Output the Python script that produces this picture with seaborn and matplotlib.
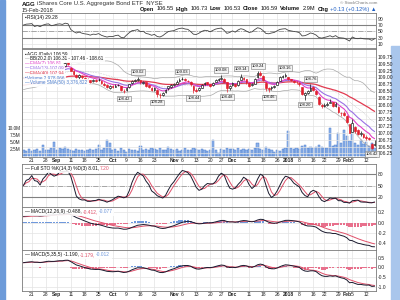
import numpy as np
import pandas as pd
import matplotlib
matplotlib.use("Agg")
import matplotlib.pyplot as plt
import seaborn as sns
from matplotlib.offsetbox import TextArea, HPacker, AnchoredOffsetbox
from matplotlib.patches import Rectangle

sns.set_theme(style="white")
plt.rcParams['font.family'] = ['Liberation Sans', 'DejaVu Sans']

# ---------------- data ----------------
holidays = ['2017-09-04', '2017-11-23', '2017-12-25', '2018-01-01', '2018-01-15']
dates = pd.bdate_range('2017-08-16', '2018-02-15', freq='C', holidays=holidays)

# closes before the visible window (indicator warm-up)
prior_close = [108.62, 108.70, 108.66, 108.58, 108.50, 108.55, 108.48, 108.35, 108.22, 108.15,
               108.08, 108.12, 108.20, 108.18, 108.26, 108.35, 108.42, 108.38, 108.45, 108.52,
               108.60, 108.56, 108.62, 108.68, 108.74, 108.70, 108.66, 108.72, 108.80, 108.86,
               108.82, 108.78, 108.85, 108.92, 108.98, 108.94, 108.90, 108.96, 109.00, 108.95]

opens = [109.00, 109.04, 109.14, 109.13, 109.12, 109.06, 109.14, 109.10, 109.22, 109.36,
         109.30, 109.27, 109.28, 109.45, 109.38, 109.42, 109.55, 109.35, 109.22, 109.10,
         109.00, 109.04, 108.98, 108.96, 108.90, 108.88, 108.92, 108.90, 108.88, 108.78,
         108.74, 108.62, 108.70, 108.66, 108.74, 108.68, 108.52, 108.55, 108.64, 108.80,
         108.86, 108.92, 108.90, 108.80, 108.82, 108.72, 108.62, 108.56, 108.55, 108.38,
         108.36, 108.46, 108.60, 108.66, 108.74, 108.78, 108.88, 108.94, 108.96, 108.86,
         108.84, 108.70, 108.56, 108.54, 108.62, 108.76, 108.82, 108.76, 108.72, 108.84,
         108.92, 108.96, 108.96, 108.82, 108.60, 108.72, 108.76, 108.72, 108.92, 108.98,
         108.94, 108.80, 108.72, 108.78, 109.00, 109.16, 109.06, 108.80, 108.60, 108.60,
         108.66, 108.74, 108.88, 109.02, 109.06, 109.00, 108.94, 108.88, 108.84, 108.80,
         108.64, 108.36, 108.44, 108.52, 108.64, 108.52, 108.30, 108.02, 107.96, 108.02,
         108.08, 108.10, 107.96, 107.94, 107.72, 107.72, 107.62, 107.30, 107.04, 107.22,
         107.08, 106.94, 106.96, 106.86, 106.80, 106.60, 106.55]

highs = [109.08, 109.14, 109.18, 109.20, 109.16, 109.15, 109.16, 109.24, 109.31, 109.40,
         109.33, 109.34, 109.42, 109.48, 109.44, 109.56, 109.56, 109.38, 109.26, 109.12,
         109.12, 109.10, 109.02, 108.98, 108.92, 108.96, 108.95, 108.98, 108.90, 108.82,
         108.76, 108.72, 108.74, 108.75, 108.78, 108.70, 108.58, 108.66, 108.78, 108.92,
         108.96, 109.02, 108.92, 108.88, 108.84, 108.74, 108.64, 108.64, 108.58, 108.44,
         108.46, 108.58, 108.70, 108.76, 108.80, 108.90, 108.98, 109.03, 108.98, 108.92,
         108.86, 108.72, 108.60, 108.64, 108.76, 108.84, 108.84, 108.78, 108.84, 108.94,
         108.98, 109.08, 108.98, 108.84, 108.72, 108.84, 108.78, 108.92, 109.14, 109.02,
         108.96, 108.82, 108.80, 108.98, 109.24, 109.22, 109.08, 108.82, 108.66, 108.70,
         108.74, 108.88, 109.04, 109.10, 109.16, 109.02, 108.96, 108.92, 108.88, 108.82,
         108.66, 108.48, 108.56, 108.76, 108.68, 108.54, 108.32, 108.04, 108.06, 108.10,
         108.22, 108.12, 108.10, 107.96, 107.76, 107.78, 107.64, 107.32, 107.50, 107.26,
         107.12, 107.06, 107.00, 106.92, 106.86, 106.64, 106.73]

lows = [108.96, 109.02, 109.06, 109.10, 109.02, 109.04, 109.04, 109.08, 109.18, 109.28,
        109.22, 109.24, 109.26, 109.36, 109.34, 109.40, 109.44, 109.22, 109.08, 108.98,
        108.96, 108.96, 108.90, 108.86, 108.80, 108.84, 108.84, 108.86, 108.76, 108.68,
        108.60, 108.58, 108.62, 108.64, 108.68, 108.50, 108.42, 108.52, 108.62, 108.76,
        108.84, 108.88, 108.78, 108.78, 108.66, 108.60, 108.50, 108.52, 108.28, 108.26,
        108.32, 108.44, 108.56, 108.62, 108.68, 108.76, 108.84, 108.90, 108.86, 108.82,
        108.70, 108.44, 108.46, 108.52, 108.60, 108.72, 108.74, 108.66, 108.70, 108.82,
        108.88, 108.92, 108.82, 108.48, 108.56, 108.68, 108.64, 108.70, 108.90, 108.92,
        108.78, 108.64, 108.68, 108.76, 108.98, 109.06, 108.88, 108.52, 108.46, 108.56,
        108.62, 108.72, 108.86, 108.98, 109.02, 108.90, 108.86, 108.80, 108.78, 108.70,
        108.36, 108.20, 108.40, 108.50, 108.50, 108.36, 108.00, 107.88, 107.92, 107.98,
        108.06, 107.92, 107.94, 107.72, 107.62, 107.60, 107.36, 106.98, 107.02, 107.00,
        106.90, 106.88, 106.80, 106.74, 106.72, 106.42, 106.53]

closes = [109.02, 109.10, 109.12, 109.15, 109.05, 109.12, 109.08, 109.20, 109.28, 109.32,
          109.25, 109.30, 109.38, 109.42, 109.40, 109.52, 109.50, 109.25, 109.12, 109.02,
          109.08, 109.00, 108.95, 108.92, 108.85, 108.90, 108.88, 108.92, 108.80, 108.72,
          108.65, 108.68, 108.66, 108.70, 108.72, 108.55, 108.50, 108.62, 108.75, 108.88,
          108.90, 108.95, 108.82, 108.85, 108.70, 108.65, 108.55, 108.60, 108.40, 108.35,
          108.42, 108.55, 108.68, 108.72, 108.75, 108.85, 108.92, 108.95, 108.90, 108.88,
          108.75, 108.55, 108.52, 108.60, 108.72, 108.80, 108.78, 108.70, 108.80, 108.90,
          108.95, 108.98, 108.85, 108.62, 108.68, 108.80, 108.70, 108.88, 109.00, 108.95,
          108.82, 108.70, 108.75, 108.95, 109.15, 109.10, 108.92, 108.62, 108.58, 108.65,
          108.70, 108.85, 109.00, 109.05, 109.08, 108.95, 108.90, 108.85, 108.82, 108.75,
          108.40, 108.42, 108.50, 108.62, 108.55, 108.40, 108.05, 107.95, 108.00, 108.05,
          108.12, 107.95, 108.05, 107.75, 107.70, 107.65, 107.40, 107.00, 107.35, 107.05,
          106.95, 107.00, 106.85, 106.80, 106.78, 106.46, 106.59]

volume_m = [2.1, 1.8, 2.4, 1.9, 2.2, 2.6, 1.7, 4.0, 2.3, 2.0,
            2.8, 5.1, 2.2, 2.9, 2.4, 3.3, 2.6, 2.0, 1.8, 2.5,
            2.2, 2.3, 1.9, 2.1, 2.6, 2.0, 2.4, 4.0, 2.2, 2.7,
            5.6, 4.6, 2.3, 2.5, 1.8, 2.9, 2.2, 1.6, 2.4, 2.0,
            2.1, 1.9, 3.6, 2.2, 2.5, 2.0, 2.8, 2.4, 2.2, 2.9,
            2.3, 2.0, 3.3, 2.6, 2.1, 2.4, 1.8, 2.2, 2.7, 2.3,
            2.0, 2.9, 2.4, 2.1, 2.6, 2.0, 1.7, 2.3, 5.6, 2.2,
            1.2, 2.5, 2.2, 3.0, 2.4, 2.6, 2.1, 2.8, 2.3, 2.5,
            2.0, 2.4, 2.2, 2.7, 4.6, 2.6, 2.3, 3.1, 2.5, 2.0,
            1.5, 2.1, 1.9, 2.4, 2.8, 9.0, 3.0, 2.6, 2.9, 2.4,
            3.5, 3.8, 2.7, 3.1, 2.9, 3.3, 4.1, 3.2, 2.8, 3.0,
            10.0, 3.6, 3.9, 8.2, 4.5, 9.3, 7.0, 5.2, 8.2, 4.8,
            3.9, 5.7, 4.2, 5.0, 3.6, 4.6, 2.98]

high_label_days = [41, 57, 71, 78, 84, 94, 103]
low_label_days = [36, 48, 61, 73, 88, 101, 125]

tick_dates = ['2017-08-21', '2017-08-28', '2017-09-01', '2017-09-11', '2017-09-18', '2017-09-25',
              '2017-10-02', '2017-10-09', '2017-10-16', '2017-10-23', '2017-11-01', '2017-11-06',
              '2017-11-13', '2017-11-20', '2017-11-27', '2017-12-01', '2017-12-11', '2017-12-18',
              '2017-12-26', '2018-01-02', '2018-01-08', '2018-01-16', '2018-01-22', '2018-01-29',
              '2018-02-01', '2018-02-05', '2018-02-12']
tick_labels = ['21', '28', 'Sep', '11', '18', '25', 'Oct', '9', '16', '23', 'Nov', '6', '13',
               '20', '27', 'Dec', '11', '18', '26', '2018', '8', '16', '22', '29', 'Feb', '5', '12']
bold_ticks = {'Sep', 'Oct', 'Nov', 'Dec', '2018', 'Feb'}

# ---------------- indicators ----------------
n = len(closes)
x = np.arange(n)
npre = len(prior_close)
full = pd.Series(prior_close + closes)
o = np.array(opens); h = np.array(highs); l = np.array(lows); c = np.array(closes)


def ema(s, span):
    return s.ewm(span=span, adjust=False).mean()


ema7 = ema(full, 7).values[npre:]
ema13 = ema(full, 13).values[npre:]
ema40 = ema(full, 40).values[npre:]
mid = full.rolling(20).mean()
sd = full.rolling(20).std(ddof=0)
bb_up = (mid + 2 * sd).values[npre:]
bb_lo = (mid - 2 * sd).values[npre:]
bb_mid = mid.values[npre:]

d = full.diff()
gain = d.clip(lower=0).ewm(alpha=1 / 14, adjust=False).mean()
loss = (-d.clip(upper=0)).ewm(alpha=1 / 14, adjust=False).mean()
rsi = (100 - 100 / (1 + gain / loss)).values[npre:]

hs = pd.Series(highs); ls = pd.Series(lows); cs = pd.Series(closes)
hh = hs.rolling(14, min_periods=1).max(); ll = ls.rolling(14, min_periods=1).min()
raw_k = 100 * (cs - ll) / (hh - ll)
full_k = raw_k.rolling(3, min_periods=1).mean()
full_d = full_k.rolling(3, min_periods=1).mean()

m1 = ema(full, 12) - ema(full, 26)
s1 = ema(m1, 9)
macd1 = m1.values[npre:]; sig1 = s1.values[npre:]; hist1 = macd1 - sig1
m2 = ema(full, 5) - ema(full, 35)
s2 = ema(m2, 5)
macd2 = m2.values[npre:]; sig2 = s2.values[npre:]; hist2 = macd2 - sig2

# ---------------- figure ----------------
W, H = 400, 300
fig = plt.figure(figsize=(4, 3), dpi=100)
fig.patch.set_facecolor('white')
fig.add_artist(Rectangle((0, 0), 5 / W, 1, transform=fig.transFigure, color='#6d9bd9', zorder=0))
fig.add_artist(Rectangle((391 / W, 0), 9 / W, 1 - 46 / H, transform=fig.transFigure,
                         color='#a9c6ec', zorder=0))


def ax_px(top, bottom, left=22, right=376):
    return fig.add_axes([left / W, 1 - bottom / H, (right - left) / W, (bottom - top) / H])


ax_rsi = ax_px(13, 48)
ax_p = ax_px(49, 157)
ax_sto = ax_px(164, 207)
ax_m1 = ax_px(207, 250)
ax_m2 = ax_px(250, 291)
axes = [ax_rsi, ax_p, ax_sto, ax_m1, ax_m2]

tpos = dates.get_indexer(pd.to_datetime(tick_dates))

for ax in axes:
    ax.set_facecolor('white')
    ax.set_xlim(-0.5, n - 0.5)
    ax.set_xticks(tpos)
    ax.set_xticklabels([])
    ax.grid(True, color='#e3e3e3', lw=0.5)
    ax.set_axisbelow(True)
    ax.tick_params(length=0, labelsize=3.6, pad=1.2, colors='#222')
    ax.yaxis.tick_right()
    for s in ax.spines.values():
        s.set_color('#7a7a7a'); s.set_linewidth(0.6)

# ---- RSI ----
sns.lineplot(x=x, y=rsi, ax=ax_rsi, color='#444444', lw=0.6)
ax_rsi.set_ylim(-2.4, 107.8)
ax_rsi.set_yticks([10, 30, 50, 70, 90])
for lv in (30, 70):
    ax_rsi.axhline(lv, color='#808080', lw=0.8, zorder=1)
ax_rsi.axhline(50, color='#9a9a9a', lw=0.6, ls='-.', zorder=1)

# ---- price + volume ----
ax_v = ax_p.twinx()
ax_v.set_zorder(1); ax_p.set_zorder(2); ax_p.patch.set_visible(False)
ax_v.bar(x, volume_m, width=0.8, color='#8fb3ea', edgecolor='#4a7ccc', lw=0.35)
ax_v.set_ylim(-0.36, 38.2)
ax_v.set_yticks([2.5, 5.0, 7.5, 10.0])
ax_v.set_yticklabels(['2.5M', '5.0M', '7.5M', '10.0M'])
ax_v.grid(False)
for s in ax_v.spines.values():
    s.set_visible(False)
ax_v.yaxis.tick_left()
ax_v.tick_params(axis='y', length=0, labelsize=3.4, pad=1, colors='#222',
                 left=True, labelleft=True, right=False, labelright=False)
ax_p.yaxis.tick_right()
ax_p.tick_params(axis='y', left=False, labelleft=False, right=True, labelright=True,
                 length=0, labelsize=3.6, pad=1.2)

sns.lineplot(x=x, y=bb_up, ax=ax_p, color='#a8a8a8', lw=0.5)
sns.lineplot(x=x, y=bb_lo, ax=ax_p, color='#a8a8a8', lw=0.5)
sns.lineplot(x=x, y=bb_mid, ax=ax_p, color='#b8b8b8', lw=0.45, ls=':')
sns.lineplot(x=x, y=ema40, ax=ax_p, color='#e23a50', lw=0.9)
sns.lineplot(x=x, y=ema13, ax=ax_p, color='#9a70e4', lw=0.8)
sns.lineplot(x=x, y=ema7, ax=ax_p, color='#e040c8', lw=0.8)

prev = np.concatenate([[prior_close[-1]], c[:-1]])
cols = np.where(c >= prev, '#111111', '#e0202e')
ax_p.vlines(x, l, h, colors=cols, lw=0.5, zorder=3)
body_lo = np.minimum(o, c)
body_h = np.maximum(np.abs(c - o), 0.012)
faces = [('white' if cc > oo else col) for cc, oo, col in zip(c, o, cols)]
ax_p.bar(x, body_h, bottom=body_lo, width=0.62, color=faces, edgecolor=cols, lw=0.45, zorder=4)

ax_p.set_ylim(106.12, 110.03)
ax_p.set_yticks(np.arange(106.25, 109.76, 0.25))
ax_p.set_yticklabels([f'{v:.2f}' for v in np.arange(106.25, 109.76, 0.25)])

box = dict(boxstyle='square,pad=0.18', fc='#f3f3f3', ec='#7a7a7a', lw=0.4)
for i in high_label_days:
    ax_p.annotate(f'{highs[i]:.2f}', (i, highs[i]), xytext=(0, 2.2), textcoords='offset points',
                  ha='center', va='bottom', fontsize=3.0, color='#111', bbox=box, zorder=6)
for i in low_label_days:
    ax_p.annotate(f'{lows[i]:.2f}', (i, lows[i]), xytext=(0, -2.2), textcoords='offset points',
                  ha='center', va='top', fontsize=3.0, color='#111', bbox=box, zorder=6,
                  annotation_clip=False)

# ---- stochastics ----
sns.lineplot(x=x, y=full_d.values, ax=ax_sto, color='#e0506a', lw=0.7)
sns.lineplot(x=x, y=full_k.values, ax=ax_sto, color='#1a1a2e', lw=0.7)
ax_sto.set_ylim(-7.6, 107.6)
ax_sto.set_yticks([20, 50, 80])
for lv in (20, 80):
    ax_sto.axhline(lv, color='#808080', lw=0.8, zorder=1)
ax_sto.axhline(50, color='#9a9a9a', lw=0.6, ls='-.', zorder=1)

# ---- MACD panels ----
for ax, mc, sg, hi, ylim, yt in [
        (ax_m1, macd1, sig1, hist1, (-0.539, 0.304), [-0.4, -0.2, 0.0, 0.2]),
        (ax_m2, macd2, sig2, hist2, (-1.234, 0.90), [-1.0, -0.5, 0.0, 0.5])]:
    hcols = np.where(hi >= 0, '#6f98dc', '#e8708c')
    ax.bar(x, hi, width=0.8, color=hcols, lw=0, zorder=2)
    sns.lineplot(x=x, y=sg, ax=ax, color='#e0506a', lw=0.7)
    sns.lineplot(x=x, y=mc, ax=ax, color='#1a1a2e', lw=0.7)
    ax.set_ylim(*ylim)
    ax.set_yticks(yt)
    ax.set_yticklabels([f'{v:.1f}' for v in yt])

for ax in axes + [ax_v]:
    ax.set_xlabel(''); ax.set_ylabel('')

for ax in (ax_p, ax_m2):
    ax.set_xticklabels(tick_labels)
    for t in ax.get_xticklabels():
        if t.get_text() in bold_ticks:
            t.set_fontweight('bold')
    ax.tick_params(axis='x', labelsize=3.6, pad=1.0)


# ---------------- texts ----------------
def rich(pieces, x_px, y_px, size=3.6, right=False, bg=False, sep=1.0):
    areas = [TextArea(t, textprops=dict(color=col, fontsize=size, fontweight=w))
             for t, col, w in pieces]
    pack = HPacker(children=areas, align='baseline', pad=0, sep=sep)
    anch = AnchoredOffsetbox(loc='upper right' if right else 'upper left', child=pack,
                             pad=0.1 if bg else 0, borderpad=0, frameon=bg,
                             bbox_to_anchor=(x_px / W, 1 - y_px / H),
                             bbox_transform=fig.transFigure)
    if bg:
        anch.patch.set_facecolor('white'); anch.patch.set_edgecolor('none')
        anch.patch.set_alpha(0.9)
    anch.set_zorder(10)
    fig.add_artist(anch)


K, B, N = '#111111', 'bold', 'normal'
rich([('AGG', K, B), ('iShares Core U.S. Aggregate Bond ETF  NYSE', '#333', N)], 22, 1.5, size=4.3)
rich([('15-Feb-2018', '#222', N)], 22, 8.0, size=4.0)
rich([('Open', K, B), ('106.55', K, N), ('High', K, B), ('106.73', K, N), ('Low', K, B),
      ('106.53', K, N), ('Close', K, B), ('106.59', K, N), ('Volume', K, B), ('2.9M', K, N),
      ('Chg', K, B), ('+0.13 (+0.12%) \u25b2', '#1f5fc4', N)], 377, 6.5, size=4.1, right=True, sep=1.6)
rich([('\u00a9 StockCharts.com', '#7a7a7a', N)], 377, 1.0, size=3.2, right=True)

rich([('\u25aa', K, N), ('RSI(14) 29.28', K, N)], 23, 13.6, size=3.5, bg=True, sep=0.5)

legend_rows = [
    [('\u25aa', K, N), ('AGG (Daily) 106.59', K, N)],
    [('\u2014', '#999999', N), ('BB(20,2.0) 106.31 - 107.46 - 108.61', K, N)],
    [('\u2014', '#e040c8', N), ('EMA(7) 106.81', '#e040c8', N)],
    [('\u2014', '#9a70e4', N), ('EMA(13) 107.09', '#9a70e4', N)],
    [('\u2014', '#e23a50', N), ('EMA(40) 107.94', '#e23a50', N)],
    [('\u25aa', '#4a7ccc', N), ('Volume 2,978,066', '#4a7ccc', N)],
    [('\u2014', '#4a7ccc', N), ('Volume SMA(50) 3,376,822', '#4a7ccc', N)],
]
for k, row in enumerate(legend_rows):
    rich(row, 23, 50.0 + 4.75 * k, size=3.3, bg=True, sep=0.6)

rich([('\u2014', K, N), ('Full STO %K(14,3) %D(3) 8.01,', K, N), ('7.20', '#e0506a', N)],
     23, 164.8, size=3.5, bg=True, sep=0.8)
rich([('\u2014', K, N), ('MACD(12,26,9) -0.488,', K, N), ('-0.412,', '#e0506a', N),
      ('-0.077', '#6f98dc', N)], 23, 207.8, size=3.5, bg=True, sep=0.8)
rich([('\u2014', K, N), ('MACD(5,35,5) -1.190,', K, N), ('-1.179,', '#e0506a', N),
      ('-0.012', '#6f98dc', N)], 23, 250.8, size=3.5, bg=True, sep=0.8)

fig.savefig('out.png', dpi=100)
